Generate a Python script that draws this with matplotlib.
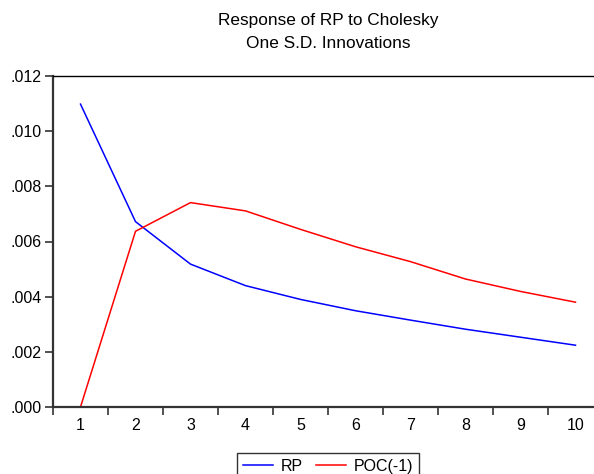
import matplotlib.pyplot as plt
import numpy as np

plt.rcParams['font.family'] = ['Liberation Sans', 'DejaVu Sans']

periods = np.arange(1, 11)
rp = [0.01098, 0.00672, 0.00518, 0.00440, 0.00390, 0.00349, 0.00315, 0.00282, 0.00253, 0.00224]
poc = [0.0, 0.00637, 0.00741, 0.00711, 0.00644, 0.00581, 0.00527, 0.00464, 0.00419, 0.00380]
yticks = [0.0, 0.002, 0.004, 0.006, 0.008, 0.010, 0.012]
ytick_labels = ['.000', '.002', '.004', '.006', '.008', '.010', '.012']
title_lines = ['Response of RP to Cholesky', 'One S.D. Innovations']

W, H = 594, 474
fig = plt.figure(figsize=(W / 100, H / 100), dpi=100)
# axes runs a little past the right edge of the picture, like the cropped original
ax = fig.add_axes([53 / W, 1 - 407 / H, (603 - 53) / W, (407 - 76) / H])

ax.plot(periods, rp, color='#0000ff', lw=1.1, label='RP')
ax.plot(periods, poc, color='#ff0000', lw=1.1, label='POC(-1)')

ax.set_xlim(0.5, 10.5)
ax.set_ylim(0, 0.012)
ax.set_yticks(yticks)
ax.set_yticklabels(ytick_labels)
ax.set_xticks(periods)
ax.set_xticklabels([str(p) for p in periods])
ax.set_xticks(np.arange(0.5, 11, 1), minor=True)
ax.tick_params(axis='x', which='major', length=0, pad=8, labelsize=11.5)
ax.tick_params(axis='x', which='minor', length=6, width=1.2, color='#333333', direction='out')
ax.tick_params(axis='y', length=6, width=1.2, color='#333333', direction='out', pad=2, labelsize=11.5)

for s in ['left', 'bottom']:
    ax.spines[s].set_color('#333333')
    ax.spines[s].set_linewidth(1.6)
ax.spines['top'].set_color('black')
ax.spines['top'].set_linewidth(1.0)
ax.spines['right'].set_visible(False)

# two title lines placed separately to get the wider line gap
fig.text(328 / W, 1 - 21 / H, title_lines[0], ha='center', va='center', fontsize=12.4)
fig.text(328 / W, 1 - 44 / H, title_lines[1], ha='center', va='center', fontsize=12.4)

fig.legend(loc='upper center', bbox_to_anchor=(328 / W, 1 - 453 / H), ncol=2,
           frameon=True, fancybox=False, edgecolor='black', fontsize=11.5,
           handlelength=1.9, handletextpad=0.45, columnspacing=0.85,
           borderpad=0.35, borderaxespad=0)

fig.savefig('out.png', dpi=100)
